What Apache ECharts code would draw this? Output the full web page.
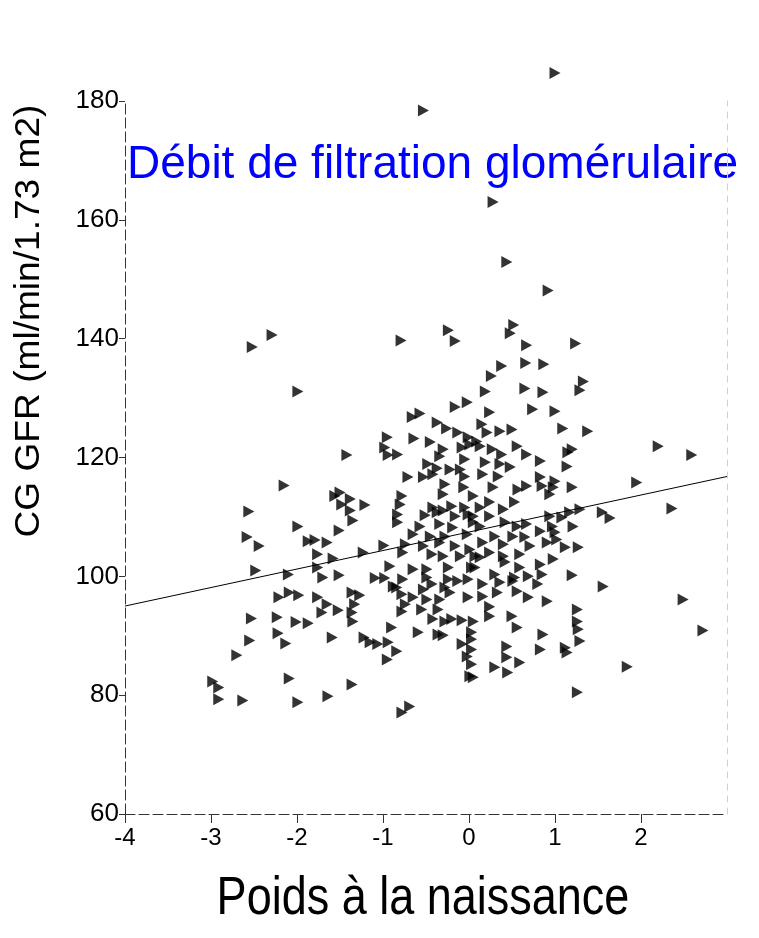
<!DOCTYPE html>
<html>
<head>
<meta charset="utf-8">
<script src="https://cdn.jsdelivr.net/npm/echarts@6/dist/echarts.min.js"></script>
<style>
  html, body { margin: 0; padding: 0; background: #fff; }
  #chart { width: 759px; height: 938px; }
</style>
</head>
<body>
<div id="chart"></div>
<script>
// Birth-weight z-score (x) against Cockcroft-Gault GFR (y), one entry per subject
const birthWeightZ = [
  1.00, -0.53, 0.28, 0.44, 0.92, -0.79, -0.24, -0.16, 0.52, 0.48, 0.67, 1.24, 0.38, 0.26, 0.66, 0.87, 1.33, 1.29, 0.65, 0.86, 0.19,
  -2.29, -2.52, -1.99, -2.15, -2.56, -1.99, -2.58, -2.44, -2.48, -2.10, -2.09, -2.21, -1.98, -2.53, -2.23, -2.01, -2.55, -2.22, -2.13, -2.70, -2.98, -2.91, -2.09, -2.91, -2.63, -1.99,
  -0.95, -0.98, -0.94, -1.42, -0.83, -1.50, -1.56, -1.38, -1.48, -1.21, -1.38, -1.35, -1.51, -1.87, -1.79, -1.65, -1.76, -1.58, -1.23, -0.99, -1.76, -1.70, -1.51, -0.92, -1.09, -0.98, -0.88, -1.76, -1.65, -1.71, -1.52, -1.36, -1.27, -1.33, -1.36, -1.35, -1.87, -0.90, -1.59, -1.22, -1.15, -1.06, -0.94, -0.84, -0.95, -1.36, -1.64,
  -0.02, -0.16, -0.57, -0.66, -0.37, -0.26, -0.13, -0.01, -0.64, -0.45, -0.30, -0.08, 0.01, -0.34, -0.05, -0.48, -0.37, -0.22, -0.10, -0.71, -0.53, -0.42, -0.28, -0.05, -0.06, -0.78, -0.30, 0.05, -0.80, -0.42, -0.30, -0.20, -0.05, -0.83, -0.51, -0.37, -0.16, -0.01, -0.83, -0.57, -0.34, -0.19, -0.65, -0.45, -0.28, -0.02, -0.74, -0.53, -0.34, -0.16, 0.01, -0.43, -0.30, -0.77,
  -0.10, 0.07, -0.65, -0.49, -0.24, 0.03, -0.77, -0.49, -0.24, -0.13, -0.01, -0.84, -0.53, -0.43, -0.28, -0.22, -0.01, -0.78, -0.65, -0.49, -0.34, -0.74, -0.78, -0.55, -0.36, -0.42, -0.28, -0.20, -0.08, 0.05, -0.59, -0.36, -0.30, 0.03, -0.08, 0.03, 0.03, -0.02, 0.03, 0.01, 0.05, -0.69, -0.78,
  0.74, 1.00, 0.24, 0.15, 0.21, 0.36, 0.50, 0.09, 0.13, 0.56, 0.27, 0.38, 0.67, 0.83, 0.19, 0.36, 0.48, 0.16, 0.34, 0.83, 0.67, 0.57, 0.85, 0.28, 0.94, 0.53, 0.24, 0.13, 0.40, 0.05, 0.24, 0.94, 0.42, 0.56, 0.67, 0.05, 0.13, 0.97, 0.83, 0.30, 0.51, 0.65, 0.16, 0.40, 0.71, 0.91, 0.24, 0.59, 0.40,
  0.13, 0.98, 0.07, 0.42, 0.59, 0.83, 0.30, 0.53, 0.69, 0.85, 0.16, 0.36, 0.51, 0.80, 0.16, 0.33, 0.56, 0.69, 0.91, 0.24, 0.24, 0.50, 0.56, 0.86, 0.44, 0.83, 0.44, 0.59, 0.30, 0.45,
  1.09, 1.38, 2.20, 2.59, 1.20, 1.15, 1.14, 1.00, 0.98, 1.20, 1.95, 2.36, 1.29, 1.17, 1.08, 1.55, 1.64, 1.21, 1.00, 1.02, 1.12, 1.27, 1.20, 1.56, 2.49, 1.26, 1.26, 1.27, 2.72, 1.29, 1.12, 1.14, 1.84, 1.26
];

const gfrValues = [
  184.7, 178.4, 163.0, 152.9, 148.1, 139.7, 141.4, 139.6, 142.3, 140.9, 138.9, 139.2, 135.4, 133.7, 135.9, 135.7, 132.8, 131.3, 131.6, 131.0, 131.1,
  140.6, 138.6, 131.1, 115.3, 110.9, 108.4, 106.6, 105.1, 101.0, 100.3, 97.3, 96.5, 96.8, 92.9, 93.1, 92.3, 89.2, 90.4, 88.7, 86.7, 82.3, 81.3, 82.8, 79.3, 79.1, 78.8,
  123.4, 121.7, 120.4, 120.4, 120.5, 114.1, 113.5, 113.0, 112.1, 112.0, 111.1, 109.4, 107.7, 105.9, 106.1, 105.7, 103.7, 103.0, 104.0, 105.2, 101.5, 99.8, 100.2, 101.7, 99.7, 99.7, 98.3, 96.5, 95.3, 93.9, 94.3, 97.3, 96.8, 95.3, 93.9, 92.4, 92.1, 91.4, 89.7, 89.7, 88.9, 88.6, 88.9, 87.4, 86.0, 81.8, 79.8,
  129.3, 128.5, 127.4, 126.8, 125.9, 124.9, 124.2, 123.4, 123.2, 122.6, 121.4, 121.7, 122.2, 120.2, 119.7, 118.9, 118.2, 118.0, 118.0, 116.7, 116.7, 117.2, 115.5, 116.8, 115.0, 113.5, 113.8, 113.5, 112.1, 111.6, 111.1, 111.8, 111.6, 110.4, 110.3, 110.8, 110.1, 110.4, 109.1, 108.4, 108.8, 108.2, 107.1, 106.7, 106.7, 107.1, 105.4, 105.1, 105.7, 105.1, 104.5, 103.7, 103.4, 104.0,
  103.4, 103.4, 101.2, 101.2, 101.5, 101.5, 99.5, 99.8, 99.5, 99.2, 99.5, 98.1, 97.8, 98.7, 98.1, 97.3, 96.5, 97.0, 96.5, 96.1, 96.1, 95.3, 94.1, 94.4, 94.4, 92.8, 92.4, 92.8, 92.6, 92.4, 90.6, 90.2, 90.1, 90.6, 88.6, 89.4, 87.7, 86.5, 85.2, 83.2, 83.0, 78.1, 77.1,
  128.1, 127.8, 127.6, 125.6, 124.2, 124.4, 124.7, 122.7, 121.9, 121.9, 121.4, 120.5, 120.5, 119.4, 119.2, 118.9, 118.4, 117.2, 116.8, 116.7, 115.2, 114.6, 115.2, 115.0, 113.8, 112.5, 112.5, 111.6, 111.3, 110.1, 110.1, 110.1, 109.1, 108.4, 108.8, 109.1, 108.4, 108.4, 107.6, 106.7, 106.7, 106.6, 105.7, 105.4, 105.1, 105.7, 104.0, 103.7, 103.4,
  103.2, 102.9, 101.5, 102.4, 101.5, 102.0, 100.3, 99.8, 100.0, 100.3, 98.7, 99.0, 99.2, 98.7, 96.6, 97.3, 97.5, 96.5, 95.8, 94.9, 93.3, 93.3, 91.4, 90.2, 88.2, 87.7, 86.4, 85.5, 84.7, 83.8,
  124.9, 124.4, 121.9, 120.4, 121.4, 120.9, 118.5, 116.0, 115.0, 115.0, 115.8, 111.4, 111.3, 110.8, 109.9, 110.8, 109.8, 108.4, 107.4, 106.2, 104.9, 104.9, 100.2, 98.3, 96.1, 94.4, 92.4, 91.1, 90.9, 89.1, 88.0, 87.2, 84.8, 80.5
];

// Fitted regression line, evaluated at the ends of the x range
const fitX = [-4, 3];
const fitY = [95.0, 116.8];

const xTicks = { min: -4, max: 3, step: 1 };
const yTicks = { min: 60, max: 180, step: 20 };

const titleText = 'Débit de filtration glomérulaire';
const xName = 'Poids à la naissance';
const yName = 'CG GFR (ml/min/1.73 m2)';

const points = birthWeightZ.map((x, i) => [x, gfrValues[i]]);
const fitLine = fitX.map((x, i) => [x, fitY[i]]);

const FONT = '"Liberation Sans", Arial, sans-serif';
const chart = echarts.init(document.getElementById('chart'), null, { renderer: 'canvas' });

chart.setOption({
  animation: false,
  backgroundColor: '#ffffff',
  grid: { left: 125, right: 32, top: 101, bottom: 124, containLabel: false },
  xAxis: {
    type: 'value',
    min: xTicks.min, max: xTicks.max, interval: xTicks.step,
    axisLine: { onZero: false, lineStyle: { color: '#333', width: 1, type: [10, 4] } },
    axisTick: { show: true, inside: false, length: 9, lineStyle: { color: '#333' } },
    axisLabel: { fontFamily: FONT, fontSize: 24, color: '#000', margin: 12, showMaxLabel: false },
    splitLine: { show: false }
  },
  yAxis: [{
    type: 'value',
    min: yTicks.min, max: yTicks.max, interval: yTicks.step,
    axisLine: { onZero: false, lineStyle: { color: '#333', width: 1, type: [10, 4] } },
    axisTick: { show: true, inside: false, length: 6, lineStyle: { color: '#333' } },
    axisLabel: { fontFamily: FONT, fontSize: 26, color: '#000', margin: 6 },
    splitLine: { show: false }
  }, {
    type: 'value',
    position: 'right',
    min: yTicks.min, max: yTicks.max, interval: yTicks.step,
    axisLine: { show: true, onZero: false, lineStyle: { color: '#d0d0d0', width: 1, type: [6, 6] } },
    axisTick: { show: false },
    axisLabel: { show: false },
    splitLine: { show: false }
  }],
  graphic: [{
    // chart title, placed over the upper part of the plot
    type: 'text',
    x: 127, y: 188,
    style: {
      text: titleText,
      font: '46px ' + FONT,
      fill: '#0000ff',
      align: 'left',
      verticalAlign: 'bottom'
    }
  }, {
    // y-axis caption, reading bottom to top
    type: 'text',
    x: 29, y: 321,
    rotation: Math.PI / 2,
    scaleX: 1.06,
    style: {
      text: yName,
      font: '35px ' + FONT,
      fill: '#000',
      align: 'center',
      verticalAlign: 'middle'
    }
  }, {
    // x-axis caption, slightly condensed and tall
    type: 'text',
    x: 423, y: 926,
    scaleY: 1.18,
    style: {
      text: xName,
      font: '45px ' + FONT,
      fill: '#000',
      align: 'center',
      verticalAlign: 'bottom'
    }
  }],
  series: [{
    type: 'line',
    data: fitLine,
    symbol: 'none',
    lineStyle: { color: '#000', width: 1 },
    z: 2
  }, {
    type: 'scatter',
    data: points,
    clip: false,
    symbol: 'triangle',
    symbolRotate: -90,
    symbolSize: [12, 11],
    itemStyle: { color: '#000' },
    z: 3
  }]
});
</script>
</body>
</html>
